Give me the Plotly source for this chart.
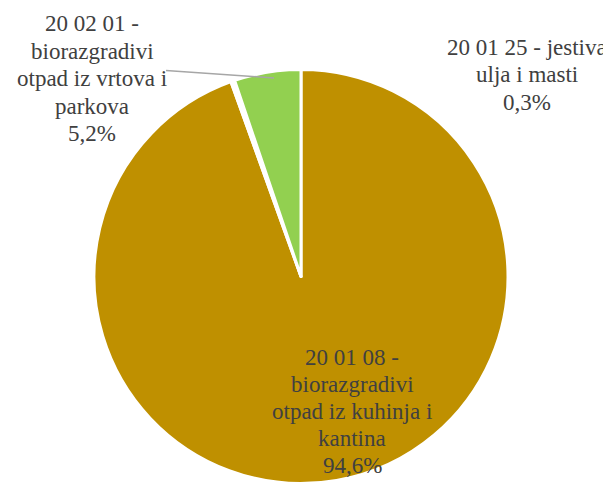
import plotly.graph_objects as go

categories = ["20 01 08 -<br>biorazgradivi<br>otpad iz kuhinja i<br>kantina",
              "20 01 25 - jestiva<br>ulja i masti",
              "20 02 01 -<br>biorazgradivi<br>otpad iz vrtova i<br>parkova"]
values = [94.6, 0.3, 5.2]
pct_labels = ["94,6%", "0,3%", "5,2%"]
colors = ["#BF9000", "#FFFFFF", "#92D050"]

W, H = 611, 482
fig = go.Figure(go.Pie(
    values=values,
    labels=categories,
    sort=False,
    direction="clockwise",
    rotation=0,
    marker=dict(colors=colors, line=dict(color="white", width=3)),
    textinfo="none",
    hoverinfo="label+percent",
    showlegend=False,
    domain=dict(x=[86 / W, 500 / W], y=[1 - 475.5 / H, 1 - 61.5 / H]),
))

# label block: (center x, first line center y, line spacing) in pixels
label_pos = [(344, 349.5, 27.0), (519, 39.0, 27.6), (84, 15.5, 27.6)]
font = dict(family="Liberation Serif", size=23, color="#404040")
for cat, pct, (px, py, dy) in zip(categories, pct_labels, label_pos):
    lines = cat.split("<br>") + [pct]
    for i, ln in enumerate(lines):
        fig.add_annotation(x=px / W, y=1 - (py + i * dy) / H, xref="paper", yref="paper",
                           text=ln, showarrow=False, font=font,
                           xanchor="center", yanchor="middle", align="center")

fig.add_shape(type="line", xref="paper", yref="paper",
              x0=158 / W, y0=1 - 62.5 / H, x1=266 / W, y1=1 - 70 / H,
              line=dict(color="#A6A6A6", width=1.5))

fig.update_layout(width=W, height=H, margin=dict(l=0, r=0, t=0, b=0),
                  font=dict(family="Liberation Serif", size=20, color="#404040"),
                  paper_bgcolor="white", plot_bgcolor="white")
fig.write_html("out.html")
